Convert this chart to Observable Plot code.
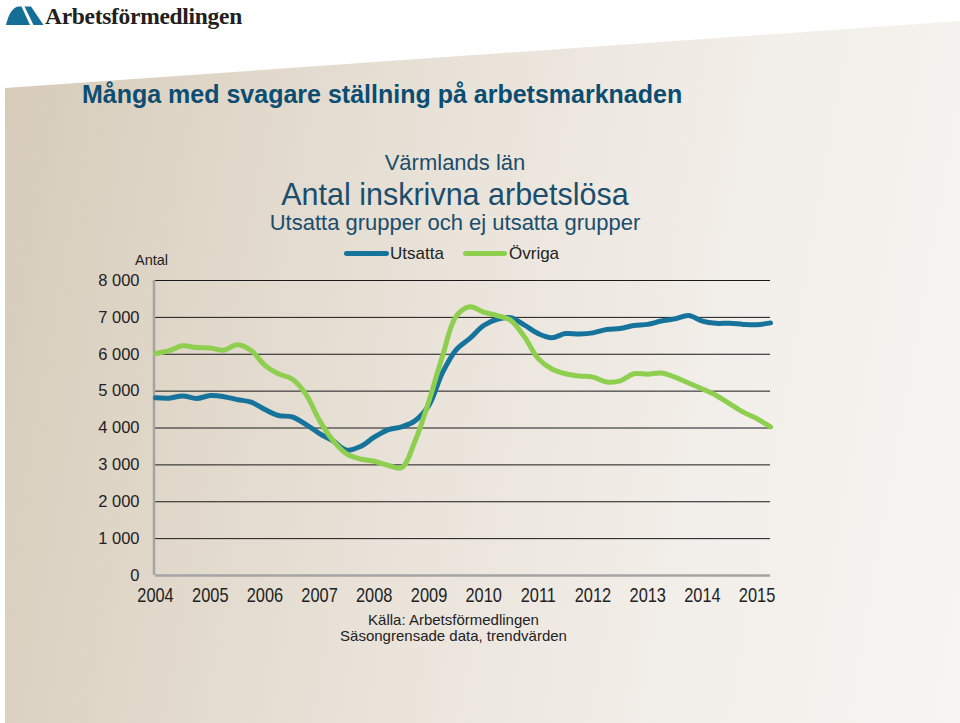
<!DOCTYPE html>
<html>
<head>
<meta charset="utf-8">
<script src="https://cdn.jsdelivr.net/npm/d3@7"></script>
<script src="https://cdn.jsdelivr.net/npm/@observablehq/plot@0.6"></script>
<style>
  html, body { margin: 0; padding: 0; background: #fff; }
  #page { position: relative; width: 960px; height: 723px; overflow: hidden; background: #fff;
          font-family: "Liberation Sans", Arial, sans-serif; }
  #bg { position: absolute; left: 0; top: 0; width: 960px; height: 723px;
        clip-path: polygon(5px 88px, 960px 21px, 960px 723px, 5px 723px);
        background: linear-gradient(100deg, #d6cbb9 0%, #e0d7c9 22%, #eae4db 48%, #f2eee9 72%, #f7f5f2 100%); }
  .t { position: absolute; white-space: nowrap; line-height: 1.117; }
  #chart { position: absolute; left: 0; top: 250px; }
</style>
</head>
<body>
<div id="page">
  <div id="bg"></div>
  <svg style="position:absolute;left:0;top:0" width="60" height="40">
    <path d="M6,25 C8,16 12,7 19,6.5 L21.5,6.5 L30,25 Z" fill="#156e96"/>
    <path d="M24.5,6.5 L31,6.5 L43.5,25 L33.5,25 Z" fill="#156e96"/>
  </svg>
  <div id="chart"></div>
</div>
<script>
// ---------- data ----------
const seriesNames = ["Utsatta", "Övriga"];
const seriesColors = ["#16739b", "#8fcf50"];
const quarters = [
  "2004-01","2004-04","2004-07","2004-10",
  "2005-01","2005-04","2005-07","2005-10",
  "2006-01","2006-04","2006-07","2006-10",
  "2007-01","2007-04","2007-07","2007-10",
  "2008-01","2008-04","2008-07","2008-10",
  "2009-01","2009-04","2009-07","2009-10",
  "2010-01","2010-04","2010-07","2010-10",
  "2011-01","2011-04","2011-07","2011-10",
  "2012-01","2012-04","2012-07","2012-10",
  "2013-01","2013-04","2013-07","2013-10",
  "2014-01","2014-04","2014-07","2014-10",
  "2015-01","2015-04"
];
const utsatta = [
  4820, 4810, 4870, 4800,
  4880, 4850, 4770, 4700,
  4500, 4340, 4300, 4100,
  3850, 3650, 3400, 3500,
  3750, 3950, 4030, 4200,
  4620, 5500, 6120, 6430,
  6780, 6950, 6990, 6790,
  6560, 6450, 6560, 6550,
  6580, 6670, 6700, 6780,
  6810, 6900, 6960, 7050,
  6900, 6840, 6840, 6810,
  6800, 6850
];
const ovriga = [
  6020, 6100, 6230, 6180,
  6170, 6110, 6260, 6100,
  5700, 5470, 5330, 4920,
  4200, 3660, 3300, 3160,
  3100, 2990, 2920, 3660,
  4740, 5950, 7030, 7290,
  7140, 7050, 6920, 6470,
  5880, 5600, 5470, 5410,
  5380, 5250, 5280, 5470,
  5460, 5490, 5380, 5220,
  5060, 4890, 4660, 4430,
  4250, 4030
];
const yTicks = [0, 1000, 2000, 3000, 4000, 5000, 6000, 7000, 8000];
const yearLabels = ["2004","2005","2006","2007","2008","2009","2010","2011","2012","2013","2014","2015"];

// ---------- texts ----------
const titleText = "Många med svagare ställning på arbetsmarknaden";
const subtitleLines = ["Värmlands län", "Antal inskrivna arbetslösa", "Utsatta grupper och ej utsatta grupper"];
const captionLines = ["Källa: Arbetsförmedlingen", "Säsongrensade data, trendvärden"];
const yLabel = "Antal";
const logoText = "Arbetsförmedlingen";

// ---------- helpers ----------
const page = document.getElementById("page");
const sans = '"Liberation Sans", Arial, sans-serif';

function placeText(text, x, baseline, fs, o = {}) {
  const d = document.createElement("div");
  d.className = "t";
  d.textContent = text;
  d.style.fontSize = fs + "px";
  d.style.fontFamily = o.family || sans;
  d.style.fontWeight = o.weight || "normal";
  d.style.color = o.color || "#222";
  if (o.letterSpacing) d.style.letterSpacing = o.letterSpacing;
  d.style.top = (baseline - 0.905 * fs) + "px";
  d.style.left = x + "px";
  if (o.anchor === "middle") d.style.transform = "translateX(-50%)";
  page.appendChild(d);
  return d;
}

placeText(logoText, 45, 24, 23.5, {family: '"Liberation Serif", "Times New Roman", serif', weight: "bold", color: "#231f20", letterSpacing: "-0.3px"});
placeText(titleText, 82, 104, 25, {weight: "bold", color: "#0c4d72"});
placeText(subtitleLines[0], 455, 171, 22, {anchor: "middle", color: "#1b4d6c"});
placeText(subtitleLines[1], 455, 205, 30.5, {anchor: "middle", color: "#1b4d6c"});
placeText(subtitleLines[2], 455, 231, 22, {anchor: "middle", color: "#1b4d6c"});
placeText(yLabel, 135, 265, 14.5, {color: "#222"});
placeText(captionLines[0], 453.5, 626, 15, {anchor: "middle", color: "#222"});
placeText(captionLines[1], 453.5, 641.5, 15, {anchor: "middle", color: "#222"});

// legend
const legendPos = [{x1: 344, x2: 389, tx: 390}, {x1: 463, x2: 507, tx: 509}];
seriesNames.forEach((name, i) => {
  const p = legendPos[i];
  const sw = document.createElement("div");
  Object.assign(sw.style, {position: "absolute", left: p.x1 + "px", top: "251px", width: (p.x2 - p.x1) + "px",
    height: "5px", borderRadius: "2.5px", background: seriesColors[i]});
  page.appendChild(sw);
  placeText(name, p.tx, 259.5, 17, {color: "#222"});
});

// ---------- chart ----------
const parse = d3.utcParse("%Y-%m");
const rows = [];
quarters.forEach((q, i) => rows.push({date: parse(q), value: utsatta[i], serie: seriesNames[0]}));
quarters.forEach((q, i) => rows.push({date: parse(q), value: ovriga[i], serie: seriesNames[1]}));
const yearDates = yearLabels.map(y => parse(y + "-01"));
const xDomain = [parse(quarters[0]), parse(quarters[quarters.length - 1])];

const chart = Plot.plot({
  width: 960,
  height: 370,
  marginLeft: 155,
  marginRight: 190,
  marginTop: 30,
  marginBottom: 45,
  style: {background: "transparent", overflow: "visible", fontFamily: sans, color: "#222"},
  x: {type: "utc", domain: xDomain},
  y: {domain: [0, 8000]},
  color: {domain: seriesNames, range: seriesColors},
  marks: [
    Plot.ruleY(yTicks.filter(v => v > 0), {stroke: "#1a1a1a", strokeWidth: 1}),
    Plot.ruleY([0], {stroke: "#a4a4a4", strokeWidth: 2.5}),
    Plot.ruleX([xDomain[0]], {y1: 0, y2: 8000, stroke: "#a4a4a4", strokeWidth: 2.5, dx: -1.5}),
    Plot.line(rows, {x: "date", y: "value", z: "serie", stroke: "serie", strokeWidth: 5,
      curve: "catmull-rom", strokeLinecap: "round", strokeLinejoin: "round"}),
    Plot.axisY({ticks: yTicks, tickSize: 0, tickPadding: 16, label: null, fontSize: 16.5,
      tickFormat: v => v === 0 ? "0" : `${v / 1000} 000`}),
    Plot.axisX({ticks: yearDates, tickSize: 0, tickPadding: 12.5, label: null, fontSize: 20,
      tickFormat: d3.utcFormat("%Y")})
  ]
});
// narrow the year labels (reference uses a condensed face)
chart.querySelectorAll('g[aria-label="x-axis tick label"] text').forEach(t => {
  const tr = t.getAttribute("transform") || "";
  t.setAttribute("transform", (tr + " scale(0.82,1)").trim());
});
document.getElementById("chart").appendChild(chart);
</script>
</body>
</html>
